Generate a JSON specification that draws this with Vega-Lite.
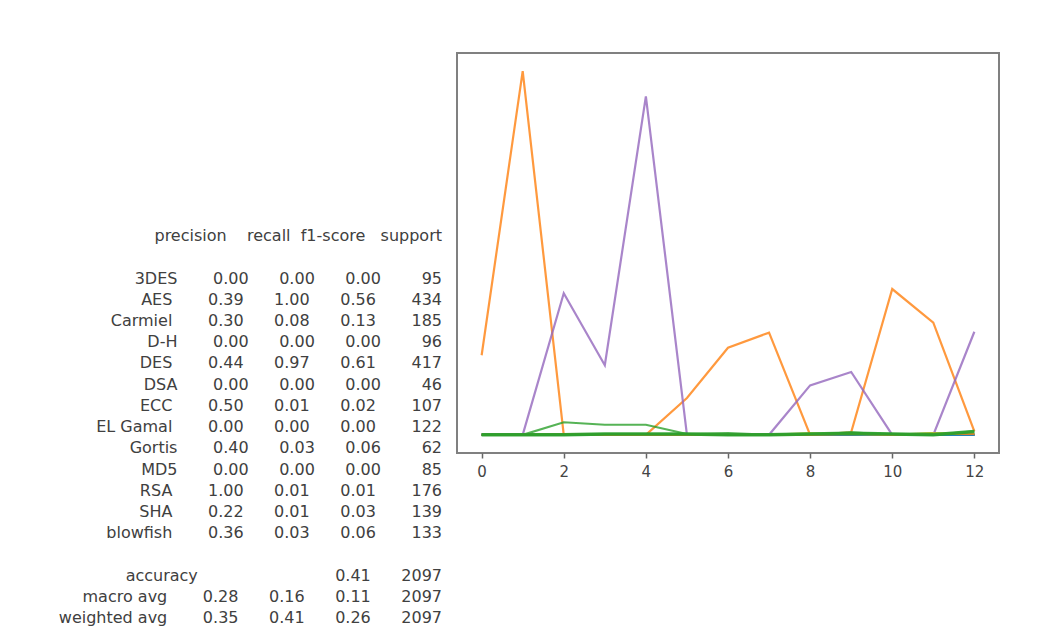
{
  "$schema": "https://vega.github.io/schema/vega-lite/v6.json",
  "padding": {"left": 0, "top": 52, "right": 0, "bottom": 0},
  "background": "white",
  "spacing": 14,
  "config": {"font": "DejaVu Sans"},
  "datasets": {
    "report": [
      {"line": 0, "text": "precision\u00a0\u00a0\u00a0\u00a0recall\u00a0\u00a0f1-score\u00a0\u00a0\u00a0support"},
      {"line": 2, "text": "3DES\u00a0\u00a0\u00a0\u00a0\u00a0\u00a0\u00a00.00\u00a0\u00a0\u00a0\u00a0\u00a0\u00a00.00\u00a0\u00a0\u00a0\u00a0\u00a0\u00a00.00\u00a0\u00a0\u00a0\u00a0\u00a0\u00a0\u00a0\u00a095"},
      {"line": 3, "text": "AES\u00a0\u00a0\u00a0\u00a0\u00a0\u00a0\u00a00.39\u00a0\u00a0\u00a0\u00a0\u00a0\u00a01.00\u00a0\u00a0\u00a0\u00a0\u00a0\u00a00.56\u00a0\u00a0\u00a0\u00a0\u00a0\u00a0\u00a0434"},
      {"line": 4, "text": "Carmiel\u00a0\u00a0\u00a0\u00a0\u00a0\u00a0\u00a00.30\u00a0\u00a0\u00a0\u00a0\u00a0\u00a00.08\u00a0\u00a0\u00a0\u00a0\u00a0\u00a00.13\u00a0\u00a0\u00a0\u00a0\u00a0\u00a0\u00a0185"},
      {"line": 5, "text": "D-H\u00a0\u00a0\u00a0\u00a0\u00a0\u00a0\u00a00.00\u00a0\u00a0\u00a0\u00a0\u00a0\u00a00.00\u00a0\u00a0\u00a0\u00a0\u00a0\u00a00.00\u00a0\u00a0\u00a0\u00a0\u00a0\u00a0\u00a0\u00a096"},
      {"line": 6, "text": "DES\u00a0\u00a0\u00a0\u00a0\u00a0\u00a0\u00a00.44\u00a0\u00a0\u00a0\u00a0\u00a0\u00a00.97\u00a0\u00a0\u00a0\u00a0\u00a0\u00a00.61\u00a0\u00a0\u00a0\u00a0\u00a0\u00a0\u00a0417"},
      {"line": 7, "text": "DSA\u00a0\u00a0\u00a0\u00a0\u00a0\u00a0\u00a00.00\u00a0\u00a0\u00a0\u00a0\u00a0\u00a00.00\u00a0\u00a0\u00a0\u00a0\u00a0\u00a00.00\u00a0\u00a0\u00a0\u00a0\u00a0\u00a0\u00a0\u00a046"},
      {"line": 8, "text": "ECC\u00a0\u00a0\u00a0\u00a0\u00a0\u00a0\u00a00.50\u00a0\u00a0\u00a0\u00a0\u00a0\u00a00.01\u00a0\u00a0\u00a0\u00a0\u00a0\u00a00.02\u00a0\u00a0\u00a0\u00a0\u00a0\u00a0\u00a0107"},
      {"line": 9, "text": "EL Gamal\u00a0\u00a0\u00a0\u00a0\u00a0\u00a0\u00a00.00\u00a0\u00a0\u00a0\u00a0\u00a0\u00a00.00\u00a0\u00a0\u00a0\u00a0\u00a0\u00a00.00\u00a0\u00a0\u00a0\u00a0\u00a0\u00a0\u00a0122"},
      {"line": 10, "text": "Gortis\u00a0\u00a0\u00a0\u00a0\u00a0\u00a0\u00a00.40\u00a0\u00a0\u00a0\u00a0\u00a0\u00a00.03\u00a0\u00a0\u00a0\u00a0\u00a0\u00a00.06\u00a0\u00a0\u00a0\u00a0\u00a0\u00a0\u00a0\u00a062"},
      {"line": 11, "text": "MD5\u00a0\u00a0\u00a0\u00a0\u00a0\u00a0\u00a00.00\u00a0\u00a0\u00a0\u00a0\u00a0\u00a00.00\u00a0\u00a0\u00a0\u00a0\u00a0\u00a00.00\u00a0\u00a0\u00a0\u00a0\u00a0\u00a0\u00a0\u00a085"},
      {"line": 12, "text": "RSA\u00a0\u00a0\u00a0\u00a0\u00a0\u00a0\u00a01.00\u00a0\u00a0\u00a0\u00a0\u00a0\u00a00.01\u00a0\u00a0\u00a0\u00a0\u00a0\u00a00.01\u00a0\u00a0\u00a0\u00a0\u00a0\u00a0\u00a0176"},
      {"line": 13, "text": "SHA\u00a0\u00a0\u00a0\u00a0\u00a0\u00a0\u00a00.22\u00a0\u00a0\u00a0\u00a0\u00a0\u00a00.01\u00a0\u00a0\u00a0\u00a0\u00a0\u00a00.03\u00a0\u00a0\u00a0\u00a0\u00a0\u00a0\u00a0139"},
      {"line": 14, "text": "blowfish\u00a0\u00a0\u00a0\u00a0\u00a0\u00a0\u00a00.36\u00a0\u00a0\u00a0\u00a0\u00a0\u00a00.03\u00a0\u00a0\u00a0\u00a0\u00a0\u00a00.06\u00a0\u00a0\u00a0\u00a0\u00a0\u00a0\u00a0133"},
      {"line": 16, "text": "accuracy\u00a0\u00a0\u00a0\u00a0\u00a0\u00a0\u00a0\u00a0\u00a0\u00a0\u00a0\u00a0\u00a0\u00a0\u00a0\u00a0\u00a0\u00a0\u00a0\u00a0\u00a0\u00a0\u00a0\u00a0\u00a0\u00a0\u00a00.41\u00a0\u00a0\u00a0\u00a0\u00a0\u00a02097"},
      {"line": 17, "text": "macro avg\u00a0\u00a0\u00a0\u00a0\u00a0\u00a0\u00a00.28\u00a0\u00a0\u00a0\u00a0\u00a0\u00a00.16\u00a0\u00a0\u00a0\u00a0\u00a0\u00a00.11\u00a0\u00a0\u00a0\u00a0\u00a0\u00a02097"},
      {"line": 18, "text": "weighted avg\u00a0\u00a0\u00a0\u00a0\u00a0\u00a0\u00a00.35\u00a0\u00a0\u00a0\u00a0\u00a0\u00a00.41\u00a0\u00a0\u00a0\u00a0\u00a0\u00a00.26\u00a0\u00a0\u00a0\u00a0\u00a0\u00a02097"}
    ],
    "cm": [
      {"cls": 0, "3DES": 0, "AES": 95, "Carmiel": 0, "D-H": 0, "DES": 0, "DSA": 0, "ECC": 0, "EL Gamal": 0, "Gortis": 0, "MD5": 0, "RSA": 0, "SHA": 0, "blowfish": 0},
      {"cls": 1, "3DES": 0, "AES": 434, "Carmiel": 0, "D-H": 0, "DES": 0, "DSA": 0, "ECC": 0, "EL Gamal": 0, "Gortis": 0, "MD5": 0, "RSA": 0, "SHA": 0, "blowfish": 0},
      {"cls": 2, "3DES": 0, "AES": 0, "Carmiel": 15, "D-H": 0, "DES": 169, "DSA": 0, "ECC": 0, "EL Gamal": 0, "Gortis": 0, "MD5": 0, "RSA": 0, "SHA": 1, "blowfish": 0},
      {"cls": 3, "3DES": 0, "AES": 0, "Carmiel": 12, "D-H": 0, "DES": 83, "DSA": 0, "ECC": 0, "EL Gamal": 0, "Gortis": 0, "MD5": 0, "RSA": 0, "SHA": 0, "blowfish": 1},
      {"cls": 4, "3DES": 0, "AES": 0, "Carmiel": 12, "D-H": 0, "DES": 404, "DSA": 0, "ECC": 0, "EL Gamal": 0, "Gortis": 0, "MD5": 0, "RSA": 0, "SHA": 0, "blowfish": 1},
      {"cls": 5, "3DES": 0, "AES": 44, "Carmiel": 1, "D-H": 0, "DES": 0, "DSA": 0, "ECC": 0, "EL Gamal": 0, "Gortis": 0, "MD5": 0, "RSA": 0, "SHA": 0, "blowfish": 1},
      {"cls": 6, "3DES": 0, "AES": 104, "Carmiel": 2, "D-H": 0, "DES": 0, "DSA": 0, "ECC": 1, "EL Gamal": 0, "Gortis": 0, "MD5": 0, "RSA": 0, "SHA": 0, "blowfish": 0},
      {"cls": 7, "3DES": 0, "AES": 122, "Carmiel": 0, "D-H": 0, "DES": 0, "DSA": 0, "ECC": 0, "EL Gamal": 0, "Gortis": 0, "MD5": 0, "RSA": 0, "SHA": 0, "blowfish": 0},
      {"cls": 8, "3DES": 0, "AES": 0, "Carmiel": 0, "D-H": 0, "DES": 59, "DSA": 0, "ECC": 0, "EL Gamal": 0, "Gortis": 2, "MD5": 0, "RSA": 0, "SHA": 0, "blowfish": 1},
      {"cls": 9, "3DES": 0, "AES": 3, "Carmiel": 3, "D-H": 0, "DES": 75, "DSA": 0, "ECC": 1, "EL Gamal": 0, "Gortis": 0, "MD5": 0, "RSA": 0, "SHA": 1, "blowfish": 2},
      {"cls": 10, "3DES": 0, "AES": 174, "Carmiel": 0, "D-H": 0, "DES": 0, "DSA": 0, "ECC": 0, "EL Gamal": 0, "Gortis": 0, "MD5": 0, "RSA": 1, "SHA": 0, "blowfish": 1},
      {"cls": 11, "3DES": 0, "AES": 134, "Carmiel": 2, "D-H": 0, "DES": 0, "DSA": 0, "ECC": 0, "EL Gamal": 0, "Gortis": 2, "MD5": 0, "RSA": 0, "SHA": 1, "blowfish": 0},
      {"cls": 12, "3DES": 0, "AES": 4, "Carmiel": 0, "D-H": 0, "DES": 123, "DSA": 0, "ECC": 0, "EL Gamal": 0, "Gortis": 1, "MD5": 0, "RSA": 0, "SHA": 1, "blowfish": 4}
    ]
  },
  "hconcat": [
    {
      "width": 442,
      "height": 587,
      "view": {"stroke": null},
      "data": {"name": "report"},
      "mark": {"type": "text", "align": "right", "baseline": "middle", "font": "DejaVu Sans", "fontSize": 16, "color": "#404040"},
      "encoding": {
        "x": {"datum": 1, "type": "quantitative", "scale": {"domain": [0, 1], "nice": false, "zero": false}, "axis": null},
        "y": {"field": "line", "type": "quantitative", "scale": {"domain": [-8.612, 19.012], "reverse": true, "nice": false, "zero": false}, "axis": null},
        "text": {"field": "text", "type": "nominal"}
      }
    },
    {
      "width": 542,
      "height": 400,
      "view": {"stroke": "#808080", "strokeWidth": 2},
      "data": {"name": "cm"},
      "transform": [
        {"fold": ["3DES", "AES", "Carmiel", "D-H", "DES", "DSA", "ECC", "EL Gamal", "Gortis", "MD5", "RSA", "SHA", "blowfish"], "as": ["pred", "count"]}
      ],
      "encoding": {
        "x": {
          "field": "cls", "type": "quantitative",
          "scale": {"domain": [-0.6, 12.6], "nice": false, "zero": false},
          "axis": {"values": [0, 2, 4, 6, 8, 10, 12], "title": null, "domain": false, "grid": false, "ticks": true, "tickSize": 5, "tickColor": "#666666", "tickWidth": 1.5, "labelFont": "DejaVu Sans", "labelFontSize": 15, "labelColor": "#444444", "labelPadding": 6}
        },
        "y": {
          "field": "count", "type": "quantitative",
          "scale": {"domain": [-21.7, 455.7], "nice": false, "zero": false},
          "axis": null
        },
        "color": {
          "field": "pred", "type": "nominal",
          "scale": {
            "domain": ["3DES", "AES", "Carmiel", "D-H", "DES", "DSA", "ECC", "EL Gamal", "Gortis", "MD5", "RSA", "SHA", "blowfish"],
            "range": ["#1f77b4", "#ff7f0e", "#2ca02c", "#d62728", "#9467bd", "#8c564b", "#e377c2", "#7f7f7f", "#bcbd22", "#17becf", "#1f77b4", "#ff7f0e", "#2ca02c"]
          },
          "legend": null
        }
      },
      "layer": [
        {"mark": {"type": "line", "strokeWidth": 2.2, "opacity": 0.8}},
        {"transform": [{"filter": "datum.pred === 'blowfish'"}], "mark": {"type": "line", "strokeWidth": 3.5, "opacity": 0.9}}
      ]
    }
  ]
}
